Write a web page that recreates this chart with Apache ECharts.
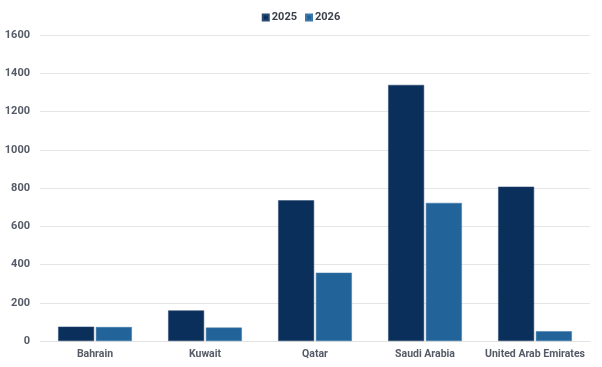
<!DOCTYPE html>
<html><head><meta charset="utf-8">
<script src="https://cdn.jsdelivr.net/npm/echarts@6/dist/echarts.min.js"></script>
<style>html,body{margin:0;padding:0;background:#fff}#c{width:602px;height:367px}</style>
</head><body><div id="c"></div>
<script>
const categories = ['Bahrain', 'Kuwait', 'Qatar', 'Saudi Arabia', 'United Arab Emirates'];
const values2025 = [75, 160, 736, 1339, 807];
const values2026 = [73, 70, 357, 722, 51];
const seriesNames = ['2025', '2026'];

const chart = echarts.init(document.getElementById('c'), null, {renderer: 'canvas'});
const txt = {fontFamily: 'Roboto', fontWeight: 'bold', fontSize: 11, color: '#555b66'};
chart.setOption({
  animation: false,
  legend: {
    top: 7, left: 'center', itemWidth: 6, itemHeight: 6, itemGap: 8,
    icon: 'rect',
    textStyle: Object.assign({}, txt, {color: '#3a3f48', fontSize: 11, padding: [0,0,0,-2]})
  },
  grid: {left: 40, right: 12, top: 35, bottom: 26, containLabel: false},
  xAxis: {
    type: 'category', data: categories,
    axisLine: {show: true, lineStyle: {color: '#e3e3e3'}},
    axisTick: {show: false},
    axisLabel: Object.assign({}, txt, {fontSize: 10.5, margin: 8, interval: 0})
  },
  yAxis: {
    type: 'value', min: 0, max: 1600, interval: 200,
    axisLine: {show: false}, axisTick: {show: false},
    splitLine: {lineStyle: {color: '#e6e6e6'}},
    axisLabel: Object.assign({}, txt, {margin: 10, formatter: v => String(v)})
  },
  series: [
    {name: seriesNames[0], type: 'bar', data: values2025, barGap: '5%', barCategoryGap: '33%',
     itemStyle: {color: '#0b2f5b', borderColor: '#2a4a72', borderWidth: 0.5}},
    {name: seriesNames[1], type: 'bar', data: values2026,
     itemStyle: {color: '#22649a', borderColor: '#3d78a8', borderWidth: 0.5}}
  ]
});
</script></body></html>
